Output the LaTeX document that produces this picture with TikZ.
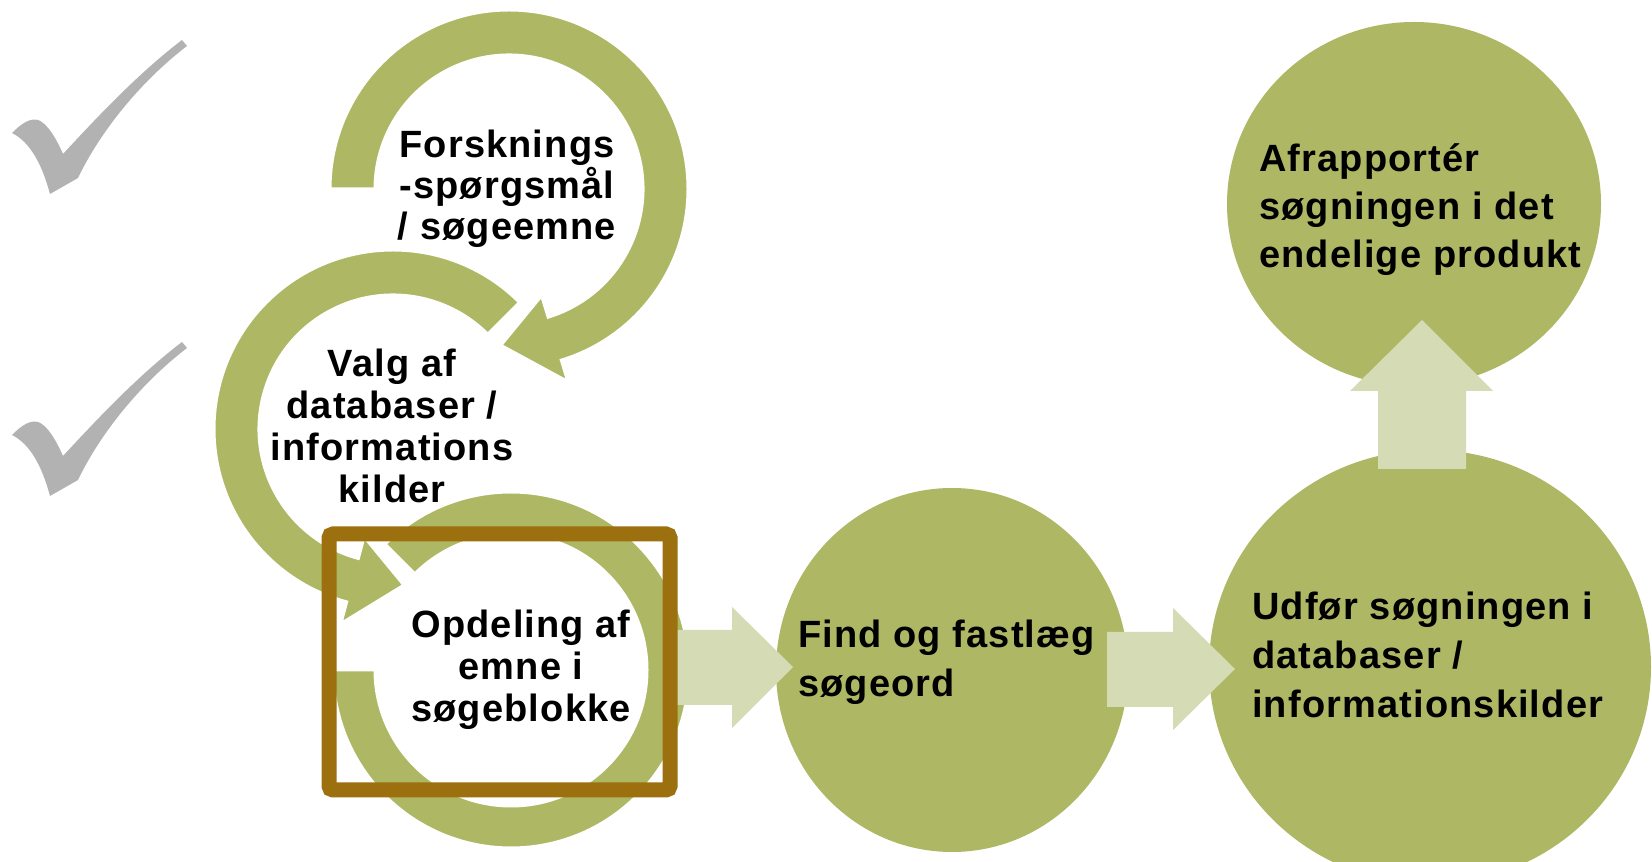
\documentclass[tikz,border=0pt]{standalone}
\usepackage{fontspec}
\setmainfont{Liberation Sans}[LetterSpace=3.0]
\usetikzlibrary{shapes.geometric}
\definecolor{ringgreen}{RGB}{174,184,100}
\definecolor{lightgreen}{RGB}{212,219,181}
\definecolor{boxbrown}{RGB}{156,112,14}
\definecolor{checkgray}{RGB}{178,178,178}
\begin{document}
\begin{tikzpicture}[x=1pt,y=1pt,
  ringshape/.style={fill=ringgreen, draw=white, line width=3pt, line join=miter},
  discshape/.style={ellipse, fill=ringgreen, draw=none, inner sep=0pt},
  blockarrow/.style={fill=lightgreen, draw=none},
  checkshape/.style={fill=checkgray, draw=none},
  brownbox/.style={draw=boxbrown, line width=15pt, rounded corners=4pt},
  steptext/.style={font=\fontsize{38}{42}\selectfont\bfseries, text=black, inner sep=0pt},
  circtext/.style={font=\fontsize{38}{49}\selectfont\bfseries, text=black, inner sep=0pt, align=left, anchor=base west}]
\useasboundingbox (0,0) rectangle (1652,862);
\fill[white] (0,0) rectangle (1652,862);
\clip (0,0) rectangle (1652,862);

% check marks
\foreach \dy in {0,-302}{
  \path[checkshape, yshift=\dy] (12,729) .. controls (22,739) and (30,744) .. (38,742)
    .. controls (47,739) and (56,724) .. (63,708)
    .. controls (100,748) and (140,790) .. (182,822) -- (187,816)
    .. controls (140,780) and (100,730) .. (78,684) -- (50,668)
    .. controls (42,698) and (30,720) .. (12,729) -- cycle;
}

% right-hand discs
\node[discshape, minimum width=352, minimum height=364] (c4) at (952,192) {};
\node[discshape, minimum width=442, minimum height=434] (c5) at (1430,195) {};
\node[discshape, minimum width=374, minimum height=364] (c6) at (1414,658) {};

% circular arrows
\path[ringshape, shift={(511,192)}] (135:178) arc[start angle=135, end angle=-180, radius=178]
  -- (180:136) arc[start angle=-180, end angle=135, radius=136] -- cycle;
\path[ringshape, shift={(393,433)}] (45:179) arc[start angle=45, end angle=255, radius=179]
  -- (255:201.5) -- (274:156.5) -- (255:111.5) -- (255:134)
  arc[start angle=255, end angle=45, radius=134] -- cycle;
\path[ringshape, shift={(509,673)}] (180:179) arc[start angle=180, end angle=-73, radius=179]
  -- (-73:201.5) -- (-93:156.5) -- (-73:111.5) -- (-73:134)
  arc[start angle=-73, end angle=180, radius=134] -- cycle;

% block arrows
\path[blockarrow] (665,232) -- (732,232) -- (732,255) -- (793,195) -- (732,134) -- (732,157) -- (665,157) -- cycle;
\path[blockarrow] (1107,230) -- (1173,230) -- (1173,254) -- (1235,193) -- (1173,132) -- (1173,155) -- (1107,155) -- cycle;
\path[blockarrow] (1378,393) -- (1378,471) -- (1350,471) -- (1422,542) -- (1493,471) -- (1466,471) -- (1466,393) -- cycle;

% brown frame
\draw[brownbox] (329,72) rectangle (670,328);

% texts (base anchor = baseline of the last line)
\node[steptext, align=center, anchor=base, font=\fontsize{38}{41}\selectfont\bfseries] (t1) at (507,622) {Forsknings\\-spørgsmål\\/ søgeemne};
\node[steptext, align=center, anchor=base] (t2) at (392,359) {Valg af\\databaser /\\informations\\kilder};
\node[steptext, align=center, anchor=base] (t3) at (521,140) {Opdeling af\\emne i\\søgeblokke};
\node[circtext] (t4) at (798,165) {Find og fastlæg\\søgeord};
\node[circtext] (t5) at (1252,144) {Udfør søgningen i\\databaser /\\informationskilder};
\node[circtext, font=\fontsize{38}{48}\selectfont\bfseries] (t6) at (1259,594) {Afrapportér\\søgningen i det\\endelige produkt};
\end{tikzpicture}
\end{document}
